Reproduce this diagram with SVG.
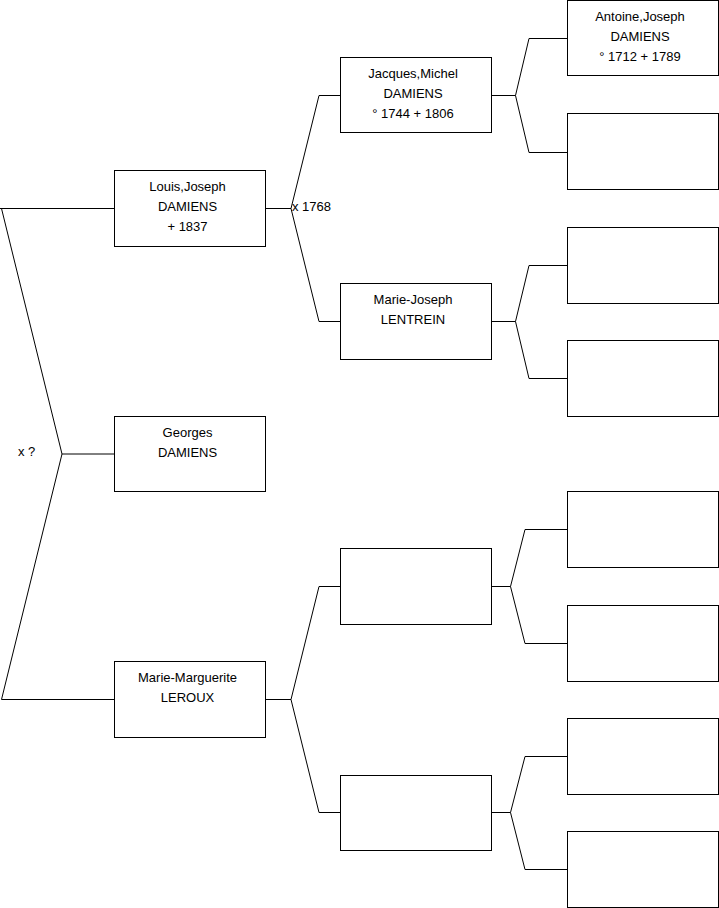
<svg xmlns="http://www.w3.org/2000/svg" width="719" height="908" viewBox="0 0 719 908">
<style>
.box{fill:#fff;stroke:#000;stroke-width:1}
.ln{fill:none;stroke:#000;stroke-width:1}
text{font-family:"Liberation Sans",Arial,sans-serif;font-size:13px;fill:#000}
.c{text-anchor:middle}
</style>
<rect width="719" height="908" fill="#fff"/>
<g id="connectors">
<path class="ln" d="M0,208.5H114.5M1.5,208.5L62,454L1.5,699.5M62,454H114.5M1.5,699.5H114.5"/>
<path class="ln" d="M265.5,208.5H291M319,95.5L291,208.5L319,321.5M319,95.5H340.5M319,321.5H340.5"/>
<path class="ln" d="M265.5,699.5H291M319,586.5L291,699.5L319,812.5M319,586.5H340.5M319,812.5H340.5"/>
<path class="ln" d="M491.5,95.5H515.5M529,38.5L515.5,95.5L529,152.5M529,38.5H567.5M529,152.5H567.5"/>
<path class="ln" d="M491.5,321.5H515.5M529,265.5L515.5,321.5L529,378.5M529,265.5H567.5M529,378.5H567.5"/>
<path class="ln" d="M491.5,586.5H510.5M525,529.5L510.5,586.5L525,643.5M525,529.5H567.5M525,643.5H567.5"/>
<path class="ln" d="M491.5,812.5H510.5M525,756.5L510.5,812.5L525,869.5M525,756.5H567.5M525,869.5H567.5"/>
<text x="292" y="211">x 1768</text>
<text x="18" y="456">x ?</text>
</g>
<g id="louis">
<rect class="box" x="114.5" y="170.5" width="151" height="76"/>
<text class="c" x="187.5" y="191">Louis,Joseph</text>
<text class="c" x="187.5" y="211">DAMIENS</text>
<text class="c" x="187.5" y="231">+ 1837</text>
</g>
<g id="georges">
<rect class="box" x="114.5" y="416.5" width="151" height="75"/>
<text class="c" x="187.5" y="437">Georges</text>
<text class="c" x="187.5" y="457">DAMIENS</text>
</g>
<g id="marie-marguerite">
<rect class="box" x="114.5" y="661.5" width="151" height="76"/>
<text class="c" x="187.5" y="682">Marie-Marguerite</text>
<text class="c" x="187.5" y="702">LEROUX</text>
</g>
<g id="jacques">
<rect class="box" x="340.5" y="57.5" width="151" height="75"/>
<text class="c" x="413" y="78">Jacques,Michel</text>
<text class="c" x="413" y="98">DAMIENS</text>
<text class="c" x="413" y="118">° 1744 + 1806</text>
</g>
<g id="marie-joseph">
<rect class="box" x="340.5" y="283.5" width="151" height="76"/>
<text class="c" x="413" y="304">Marie-Joseph</text>
<text class="c" x="413" y="324">LENTREIN</text>
</g>
<g id="p3">
<rect class="box" x="340.5" y="548.5" width="151" height="76"/>
</g>
<g id="p4">
<rect class="box" x="340.5" y="775.5" width="151" height="75"/>
</g>
<g id="antoine">
<rect class="box" x="567.5" y="0.5" width="151" height="75"/>
<text class="c" x="640" y="21">Antoine,Joseph</text>
<text class="c" x="640" y="41">DAMIENS</text>
<text class="c" x="640" y="61">° 1712 + 1789</text>
</g>
<g id="g3-2"><rect class="box" x="567.5" y="113.5" width="151" height="76"/></g>
<g id="g3-3"><rect class="box" x="567.5" y="227.5" width="151" height="76"/></g>
<g id="g3-4"><rect class="box" x="567.5" y="340.5" width="151" height="76"/></g>
<g id="g3-5"><rect class="box" x="567.5" y="491.5" width="151" height="76"/></g>
<g id="g3-6"><rect class="box" x="567.5" y="605.5" width="151" height="76"/></g>
<g id="g3-7"><rect class="box" x="567.5" y="718.5" width="151" height="76"/></g>
<g id="g3-8"><rect class="box" x="567.5" y="831.5" width="151" height="76"/></g>
</svg>
